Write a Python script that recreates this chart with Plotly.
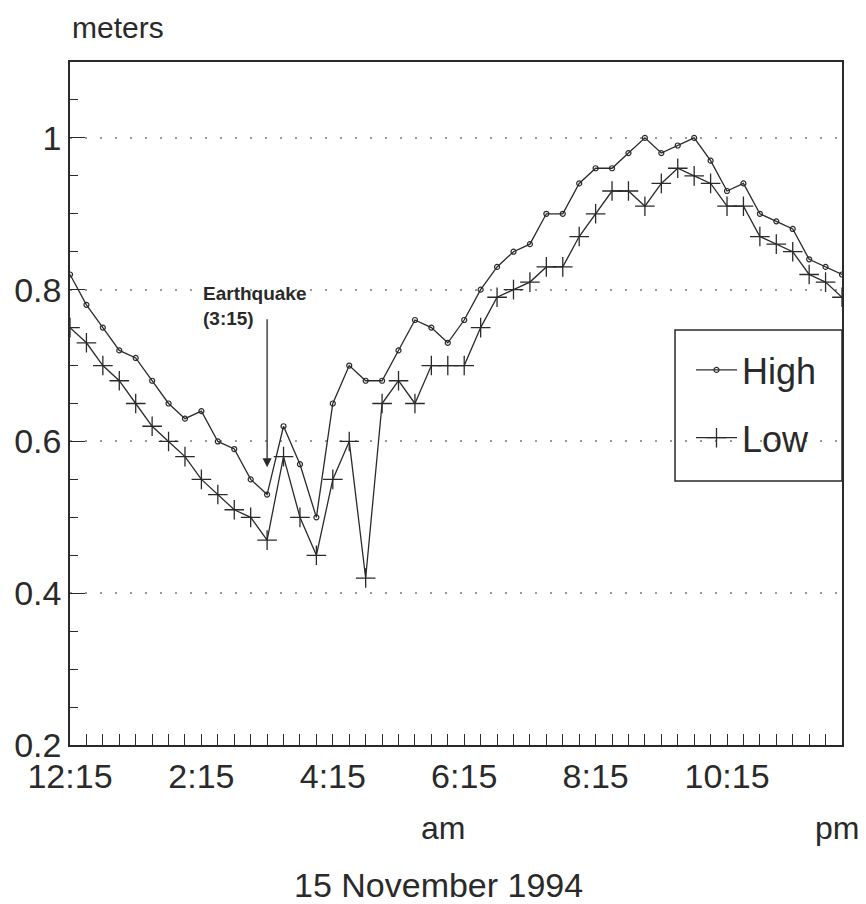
import plotly.graph_objects as go

# ---- data (15-minute readings, 15 November 1994) ----
X_INDEX = list(range(48))          # 12:15 am ... 12:00 pm, one reading every 15 minutes
HIGH = [0.82, 0.78, 0.75, 0.72, 0.71, 0.68, 0.65, 0.63, 0.64, 0.60, 0.59, 0.55,
        0.53, 0.62, 0.57, 0.50, 0.65, 0.70, 0.68, 0.68, 0.72, 0.76, 0.75, 0.73,
        0.76, 0.80, 0.83, 0.85, 0.86, 0.90, 0.90, 0.94, 0.96, 0.96, 0.98, 1.00,
        0.98, 0.99, 1.00, 0.97, 0.93, 0.94, 0.90, 0.89, 0.88, 0.84, 0.83, 0.82]
LOW = [0.75, 0.73, 0.70, 0.68, 0.65, 0.62, 0.60, 0.58, 0.55, 0.53, 0.51, 0.50,
       0.47, 0.58, 0.50, 0.45, 0.55, 0.60, 0.42, 0.65, 0.68, 0.65, 0.70, 0.70,
       0.70, 0.75, 0.79, 0.80, 0.81, 0.83, 0.83, 0.87, 0.90, 0.93, 0.93, 0.91,
       0.94, 0.96, 0.95, 0.94, 0.91, 0.91, 0.87, 0.86, 0.85, 0.82, 0.81, 0.79]
TIME_LABELS = ["12:15", "2:15", "4:15", "6:15", "8:15", "10:15"]
LABEL_EVERY = 8
Y_TICKS = [0.2, 0.4, 0.6, 0.8, 1.0]
Y_TICK_LABELS = ["0.2", "0.4", "0.6", "0.8", "1"]
EQ_INDEX = 12          # 3:15
EQ_ARROW_TIP = 0.566
EQ_ARROW_TAIL = 0.763

FONT = "Liberation Sans, Arial, Helvetica, sans-serif"
INK = "#2a2a2a"

x_tickvals = X_INDEX
x_ticktext = [TIME_LABELS[i // LABEL_EVERY] if i % LABEL_EVERY == 0 and i // LABEL_EVERY < len(TIME_LABELS) else ""
              for i in X_INDEX]

fig = go.Figure()
fig.add_trace(go.Scatter(
    x=X_INDEX, y=HIGH, name="High", mode="lines+markers", legendgroup="h",
    line=dict(color=INK, width=1.3),
    marker=dict(symbol="circle-open", size=5, color=INK, line=dict(width=1.2)),
))
fig.add_trace(go.Scatter(
    x=X_INDEX, y=LOW, name="Low", mode="lines+markers", legendgroup="l",
    line=dict(color=INK, width=1.3),
    marker=dict(symbol="cross-thin-open", size=14, color=INK, line=dict(width=1.3, color=INK)),
))

annotations = [
    dict(text="meters", xref="paper", yref="paper", x=0, y=1.05, xanchor="left", yanchor="middle",
         showarrow=False, font=dict(family=FONT, size=30, color=INK)),
    dict(text="am", xref="paper", yref="paper", x=0.483, y=-0.1215, xanchor="center", yanchor="middle",
         showarrow=False, font=dict(family=FONT, size=32, color=INK)),
    dict(text="pm", xref="paper", yref="paper", x=0.962, y=-0.1215, xanchor="left", yanchor="middle",
         showarrow=False, font=dict(family=FONT, size=32, color=INK)),
    dict(text="15 November 1994", xref="paper", yref="paper", x=0.477, y=-0.205, xanchor="center",
         yanchor="middle", showarrow=False, font=dict(family=FONT, size=34, color=INK)),
    dict(text="Earthquake<br>(3:15)", xref="x", yref="y", x=7.95, y=0.812, xanchor="left", yanchor="top",
         align="left", showarrow=False, font=dict(family=FONT, size=19, color=INK, weight="bold")),
    dict(text="", xref="x", yref="y", x=EQ_INDEX, y=EQ_ARROW_TIP, axref="x", ayref="y",
         ax=EQ_INDEX, ay=EQ_ARROW_TAIL, showarrow=True, arrowhead=2, arrowsize=1.4,
         arrowwidth=1.3, arrowcolor=INK),
]

legend_box = dict(type="rect", xref="paper", yref="paper", x0=0.7837, x1=1.0, y0=0.3865, y1=0.6076,
                  line=dict(color=INK, width=1.5), fillcolor="rgba(0,0,0,0)", layer="above")

fig.update_layout(
    width=858, height=896,
    margin=dict(l=62, r=24, t=54, b=159, autoexpand=False),
    paper_bgcolor="white", plot_bgcolor="white",
    font=dict(family=FONT, color=INK),
    showlegend=True,
    legend=dict(x=0.8044, y=0.593, xanchor="left", yanchor="top",
                bgcolor="rgba(0,0,0,0)", borderwidth=0,
                font=dict(family=FONT, size=36, color=INK), tracegroupgap=18,
                itemwidth=41),
    shapes=[legend_box],
    annotations=annotations,
    xaxis=dict(range=[0, 47], showgrid=False, zeroline=False,
               showline=True, mirror=True, linecolor=INK, linewidth=1.5,
               tickmode="array", tickvals=x_tickvals, ticktext=x_ticktext,
               ticks="inside", ticklen=11, tickwidth=1.2, tickcolor=INK,
               tickfont=dict(family=FONT, size=34, color=INK)),
    yaxis=dict(range=[0.2, 1.1], zeroline=False,
               showline=True, mirror=True, linecolor=INK, linewidth=1.5,
               tickmode="array", tickvals=Y_TICKS, ticktext=Y_TICK_LABELS,
               ticks="inside", ticklen=15, tickwidth=1.2, tickcolor=INK,
               tickfont=dict(family=FONT, size=34, color=INK),
               showgrid=True, gridcolor="#9a9a9a", gridwidth=1.6, griddash="2px,13px",
               minor=dict(dtick=0.05, tick0=0.2, ticks="inside", ticklen=8, tickwidth=1.2,
                          tickcolor=INK, showgrid=False)),
)

fig.write_html("out.html")
